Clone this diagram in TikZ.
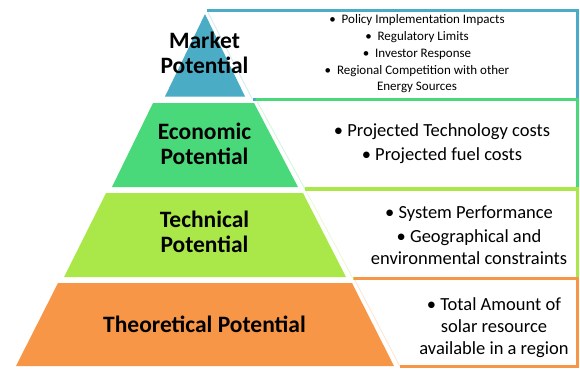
\documentclass[tikz,border=0pt]{standalone}
\usepackage{fontspec}
\setmainfont{Carlito}
\definecolor{mktblue}{HTML}{4BACC6}
\definecolor{ecogreen}{HTML}{4AD97A}
\definecolor{techgreen}{HTML}{AAE84A}
\definecolor{theoorange}{HTML}{F79646}
\begin{document}
\begin{tikzpicture}[x=1pt,y=-1pt,
  layer/.style={fill=#1,draw=none},
  boxfill/.style={fill=white,draw=none},
  boxline/.style={draw=#1,line width=3.5pt,line join=miter},
  slant/.style={draw=#1!25,line width=0.8pt},
  lbl/.style={font=\bfseries\fontsize{23.5}{25}\selectfont,align=center,inner sep=0pt},
  note/.style={font=\fontsize{18.5}{22}\selectfont,align=center,inner sep=0pt},
  smallnote/.style={font=\fontsize{13}{16.7}\selectfont,align=center,inner sep=0pt}]
\useasboundingbox (0,0) rectangle (580,370);

% description boxes, top to bottom, each covering the bottom rule of the one above
\coordinate (mA) at (207,10.5);   \coordinate (mB) at (252.5,99.5);
\fill[boxfill] (mA) -- (578,10.5) -- (578,99.5) -- (mB) -- cycle;
\draw[slant=mktblue] (mA) -- (mB);
\draw[boxline=mktblue] (mA) -- (577.5,10.5) -- (577.5,99.5) -- (mB);

\coordinate (eA) at (256,99.5);   \coordinate (eB) at (305,189);
\fill[boxfill] (eA) -- (578,99.5) -- (578,189) -- (eB) -- cycle;
\draw[slant=ecogreen] (eA) -- (eB);
\draw[boxline=ecogreen] (eA) -- (577.5,99.5) -- (577.5,189) -- (eB);

\coordinate (tA) at (305,189);    \coordinate (tB) at (353,278.5);
\fill[boxfill] (tA) -- (578,189) -- (578,278.5) -- (tB) -- cycle;
\draw[slant=techgreen] (tA) -- (tB);
\draw[boxline=techgreen] (tA) -- (577.5,189) -- (577.5,278.5) -- (tB);

\coordinate (oA) at (354,278.5);  \coordinate (oB) at (400,366.5);
\fill[boxfill] (oA) -- (578,278.5) -- (578,366.5) -- (oB) -- cycle;
\draw[slant=theoorange] (oA) -- (oB);
\draw[boxline=theoorange] (oA) -- (577.5,278.5) -- (577.5,366.5) -- (oB);

% pyramid layers
\fill[layer=mktblue] (205,14) -- (245,96.5) -- (165,96.5) -- cycle;
\fill[layer=ecogreen] (153,103) -- (254,103) -- (298,187) -- (112,187) -- cycle;
\fill[layer=techgreen] (106,193) -- (303,193) -- (346,277) -- (64,277) -- cycle;
\fill[layer=theoorange] (58,283) -- (352,283) -- (394,366) -- (16,366) -- cycle;

% layer names
\node[lbl] (market) at (204.5,53) {Market\\Potential};
\node[lbl] (economic) at (204.5,144) {Economic\\Potential};
\node[lbl] (technical) at (204.5,232) {Technical\\Potential};
\node[lbl] (theoretical) at (204.5,324) {Theoretical Potential};

% layer descriptions
\node[smallnote] (marketnote) at (417,54) {•\ \ Policy Implementation Impacts\\
  •\ \ Regulatory Limits\\
  •\ \ Investor Response\\
  •\ \ Regional Competition with other\\
  Energy Sources};
\node[note] (economicnote) at (442,144) {• Projected Technology costs\\[2pt]
  • Projected fuel costs};
\node[note] (technicalnote) at (469,235) {• System Performance\\[2pt]
  • Geographical and\\
  environmental constraints};
\node[note] (theoreticalnote) at (494,328) {• Total Amount of\\
  solar resource\\
  available in a region};
\end{tikzpicture}
\end{document}
